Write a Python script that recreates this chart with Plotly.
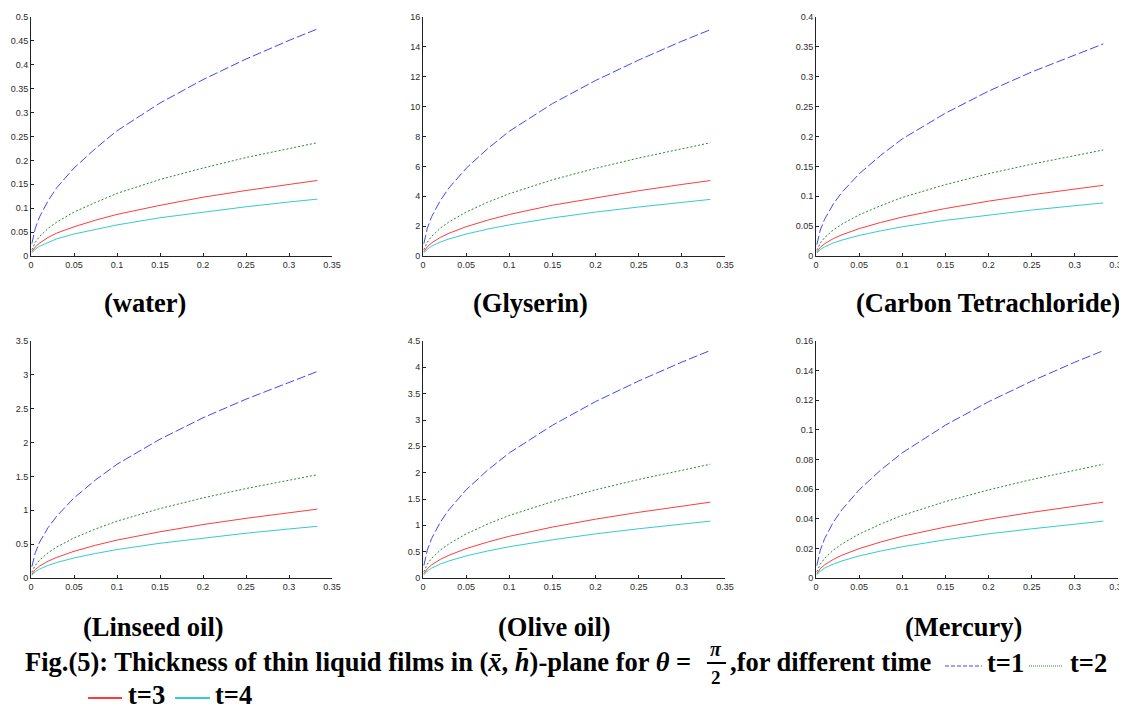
import plotly.graph_objects as go

# ---- data ----
x_vals = [0.001, 0.005, 0.01, 0.02, 0.03, 0.05, 0.075, 0.1, 0.15, 0.2, 0.25, 0.3, 0.333]

water_t1 = [0.026, 0.058, 0.082, 0.116, 0.143, 0.184, 0.225, 0.262, 0.320, 0.369, 0.412, 0.451, 0.475]
water_t2 = [0.013, 0.029, 0.041, 0.058, 0.071, 0.092, 0.112, 0.131, 0.160, 0.184, 0.206, 0.225, 0.237]
water_t3 = [0.009, 0.019, 0.027, 0.039, 0.048, 0.061, 0.075, 0.087, 0.106, 0.123, 0.137, 0.150, 0.158]
water_t4 = [0.0065, 0.0145, 0.0205, 0.029, 0.036, 0.046, 0.056, 0.065, 0.080, 0.092, 0.103, 0.113, 0.119]

glyserin_t1 = [0.83, 1.86, 2.63, 3.71, 4.55, 5.87, 7.19, 8.35, 10.2, 11.75, 13.12, 14.38, 15.15]
glyserin_t2 = [0.42, 0.93, 1.32, 1.86, 2.28, 2.94, 3.60, 4.17, 5.10, 5.87, 6.56, 7.19, 7.58]
glyserin_t3 = [0.28, 0.62, 0.88, 1.24, 1.52, 1.96, 2.40, 2.78, 3.40, 3.91, 4.37, 4.79, 5.05]
glyserin_t4 = [0.21, 0.46, 0.66, 0.93, 1.14, 1.47, 1.80, 2.08, 2.55, 2.94, 3.28, 3.59, 3.79]

ccl4_t1 = [0.019, 0.0435, 0.0615, 0.087, 0.1065, 0.1375, 0.1685, 0.196, 0.239, 0.276, 0.308, 0.337, 0.355]
ccl4_t2 = [0.0097, 0.0217, 0.0308, 0.0435, 0.0533, 0.0688, 0.0842, 0.098, 0.1195, 0.1378, 0.1537, 0.1684, 0.1775]
ccl4_t3 = [0.0065, 0.0145, 0.0205, 0.029, 0.0355, 0.0458, 0.0561, 0.0652, 0.0795, 0.0918, 0.1025, 0.1122, 0.1183]
ccl4_t4 = [0.0049, 0.0109, 0.0154, 0.0218, 0.0266, 0.0344, 0.0421, 0.0489, 0.0597, 0.0689, 0.0769, 0.0842, 0.0888]

linseed_t1 = [0.167, 0.374, 0.529, 0.747, 0.915, 1.182, 1.448, 1.68, 2.05, 2.366, 2.641, 2.894, 3.05]
linseed_t2 = [0.084, 0.187, 0.264, 0.374, 0.458, 0.591, 0.724, 0.84, 1.025, 1.183, 1.321, 1.447, 1.525]
linseed_t3 = [0.056, 0.125, 0.176, 0.249, 0.305, 0.394, 0.483, 0.56, 0.683, 0.789, 0.881, 0.965, 1.017]
linseed_t4 = [0.042, 0.093, 0.132, 0.187, 0.229, 0.296, 0.362, 0.42, 0.513, 0.592, 0.661, 0.724, 0.763]

olive_t1 = [0.237, 0.529, 0.749, 1.058, 1.296, 1.674, 2.050, 2.375, 2.90, 3.35, 3.741, 4.100, 4.32]
olive_t2 = [0.118, 0.265, 0.374, 0.529, 0.648, 0.837, 1.025, 1.188, 1.45, 1.675, 1.871, 2.050, 2.16]
olive_t3 = [0.079, 0.176, 0.250, 0.353, 0.432, 0.558, 0.683, 0.792, 0.967, 1.117, 1.247, 1.367, 1.44]
olive_t4 = [0.059, 0.132, 0.187, 0.265, 0.324, 0.419, 0.513, 0.594, 0.725, 0.838, 0.935, 1.025, 1.08]

mercury_t1 = [0.0084, 0.0188, 0.0266, 0.0376, 0.0461, 0.0595, 0.0729, 0.0845, 0.1032, 0.1190, 0.1329, 0.1457, 0.1535]
mercury_t2 = [0.0042, 0.0094, 0.0133, 0.0188, 0.0230, 0.0297, 0.0364, 0.0423, 0.0516, 0.0595, 0.0665, 0.0729, 0.0768]
mercury_t3 = [0.0028, 0.0063, 0.0089, 0.0125, 0.0154, 0.0198, 0.0243, 0.0282, 0.0344, 0.0397, 0.0443, 0.0486, 0.0512]
mercury_t4 = [0.0021, 0.0047, 0.0067, 0.0094, 0.0115, 0.0149, 0.0182, 0.0211, 0.0258, 0.0298, 0.0332, 0.0364, 0.0384]

panel_names = ["(water)", "(Glyserin)", "(Carbon Tetrachloride)",
               "(Linseed oil)", "(Olive oil)", "(Mercury)"]
panel_series = [
    [water_t1, water_t2, water_t3, water_t4],
    [glyserin_t1, glyserin_t2, glyserin_t3, glyserin_t4],
    [ccl4_t1, ccl4_t2, ccl4_t3, ccl4_t4],
    [linseed_t1, linseed_t2, linseed_t3, linseed_t4],
    [olive_t1, olive_t2, olive_t3, olive_t4],
    [mercury_t1, mercury_t2, mercury_t3, mercury_t4],
]
y_max = [0.5, 16, 0.4, 3.5, 4.5, 0.16]
y_step = [0.05, 2, 0.05, 0.5, 0.5, 0.02]
x_ticks = [0, 0.05, 0.1, 0.15, 0.2, 0.25, 0.3, 0.35]
x_tick_labels = ["0", "0.05", "0.1", "0.15", "0.2", "0.25", "0.3", "0.35"]
time_labels = ["t=1", "t=2", "t=3", "t=4"]

# ---- styles / geometry (page body has an 8px margin) ----
OFF = 8
W, H = 1127 - OFF, 711 - OFF
colors = ["#4545ff", "#2a8a2a", "#ff3b3b", "#35cccc"]
dashes = ["9px,3px", "2px,2px", "solid", "solid"]


def px(x):
    return (x - OFF) / W


def py(y):
    return 1 - (y - OFF) / H


col_px = [(31, 332), (423, 725), (816, 1118)]
row_px = [(17, 256), (341, 578)]

fig = go.Figure()
layout = {}
tick_font = dict(family="Liberation Sans, Arial, sans-serif", size=9, color="#2b2b2b")

for i, series in enumerate(panel_series):
    r, c = divmod(i, 3)
    sfx = "" if i == 0 else str(i + 1)
    for k, ys in enumerate(series):
        fig.add_trace(go.Scatter(
            x=x_vals, y=ys, mode="lines", name=time_labels[k], showlegend=False,
            line=dict(color=colors[k], width=1, dash=dashes[k]),
            xaxis="x" + sfx, yaxis="y" + sfx))
    x0, x1 = col_px[c]
    y0, y1 = row_px[r]
    n_y = int(round(y_max[i] / y_step[i]))
    yt = [round(j * y_step[i], 6) for j in range(n_y + 1)]
    ytl = [("%g" % v) for v in yt]
    layout["xaxis" + sfx] = dict(
        domain=[px(x0), px(x1)], range=[0, 0.35], anchor="y" + sfx,
        tickvals=x_ticks, ticktext=x_tick_labels, ticks="inside", ticklen=3,
        tickcolor="#222", showline=True, linecolor="#222", linewidth=1,
        showgrid=False, zeroline=False, tickfont=tick_font, fixedrange=True)
    layout["yaxis" + sfx] = dict(
        domain=[py(y1), py(y0)], range=[0, y_max[i]], anchor="x" + sfx,
        tickvals=yt, ticktext=ytl, ticks="inside", ticklen=3,
        tickcolor="#222", showline=True, linecolor="#222", linewidth=1,
        showgrid=False, zeroline=False, tickfont=tick_font, fixedrange=True)

fig.update_layout(**layout)

serif = "Liberation Serif, Times New Roman, serif"
FS = 26.5
label_font = dict(family=serif, size=FS, color="black")
label_pos = [(145, 303), (530, 303), (988, 303), (153, 627), (554, 627), (963, 627)]
annotations = []
for name, (lx, ly) in zip(panel_names, label_pos):
    annotations.append(dict(text="<b>%s</b>" % name, x=px(lx), y=py(ly), xref="paper",
                            yref="paper", showarrow=False, font=label_font,
                            xanchor="center", yanchor="middle"))

cap_font = dict(family=serif, size=FS, color="black")
cap_y = 662
annotations.append(dict(
    text="<b>Fig.(5): Thickness of thin liquid films in (<i>x\u0304</i>, <i>h\u0304</i>)-plane for <i>\u03b8</i> = </b>",
    x=px(700), y=py(cap_y), xref="paper", yref="paper", showarrow=False,
    font=cap_font, xanchor="right", yanchor="middle"))
annotations.append(dict(text="<b><i>\u03c0</i></b>", x=px(716), y=py(649), xref="paper",
                        yref="paper", showarrow=False,
                        font=dict(family=serif, size=20, color="black"),
                        xanchor="center", yanchor="middle"))
annotations.append(dict(text="<b>2</b>", x=px(716), y=py(677), xref="paper",
                        yref="paper", showarrow=False,
                        font=dict(family=serif, size=19, color="black"),
                        xanchor="center", yanchor="middle"))
annotations.append(dict(text="<b>,for different time</b>", x=px(728), y=py(cap_y),
                        xref="paper", yref="paper", showarrow=False, font=cap_font,
                        xanchor="left", yanchor="middle"))

# legend entries embedded in caption
legend_items = [
    (945, 982, 666, 985),
    (1029, 1063, 666, 1068),
    (88, 122, 698, 126),
    (175, 210, 698, 213),
]
shapes = [dict(type="line", xref="paper", yref="paper", x0=px(707), x1=px(726),
               y0=py(663), y1=py(663), line=dict(color="black", width=2))]
leg_dash = ["4px,2px", "1px,1px", "solid", "solid"]
leg_width = [1.2, 1.2, 2, 2]
for k, (lx0, lx1, ly, tx) in enumerate(legend_items):
    shapes.append(dict(type="line", xref="paper", yref="paper", x0=px(lx0), x1=px(lx1),
                       y0=py(ly), y1=py(ly),
                       line=dict(color=colors[k], width=leg_width[k], dash=leg_dash[k])))
    annotations.append(dict(text="<b>%s</b>" % time_labels[k], x=px(tx), y=py(ly - 3),
                            xref="paper", yref="paper", showarrow=False, font=cap_font,
                            xanchor="left", yanchor="middle"))

fig.update_layout(width=W, height=H,
                  margin=dict(l=0, r=0, t=0, b=0, autoexpand=False),
                  paper_bgcolor="white", plot_bgcolor="white",
                  annotations=annotations, shapes=shapes, showlegend=False)

fig.write_html("out.html")
